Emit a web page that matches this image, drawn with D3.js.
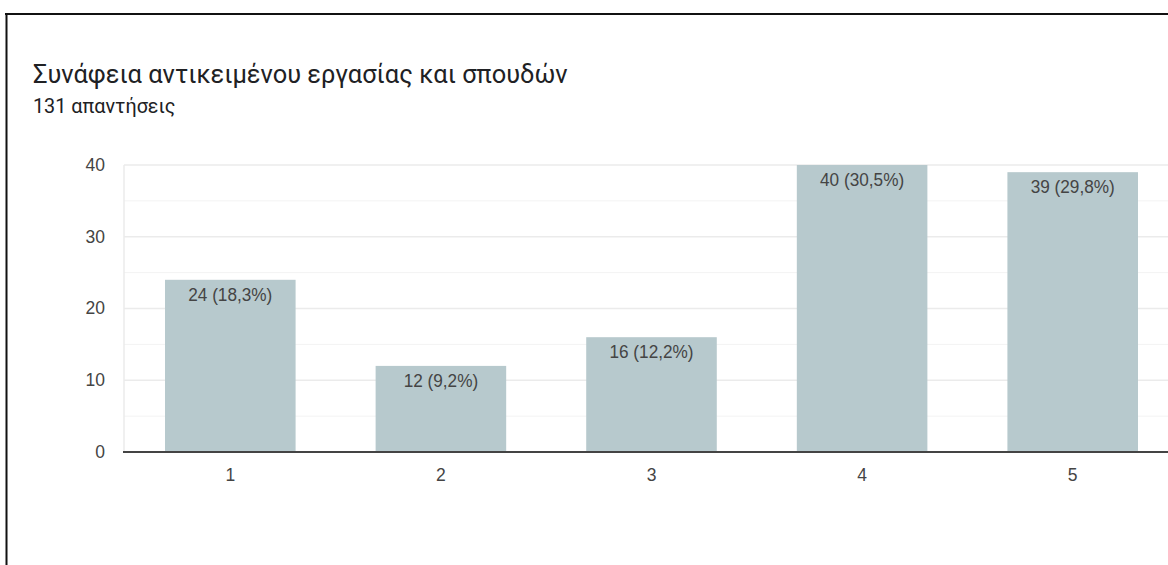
<!DOCTYPE html>
<html>
<head>
<meta charset="utf-8">
<script src="https://cdn.jsdelivr.net/npm/d3@7"></script>
<style>
  html, body { margin: 0; padding: 0; background: #fff; }
  svg { display: block; }
</style>
</head>
<body>
<svg id="chart" width="1168" height="565"></svg>
<script>
// Survey responses: relevance between job subject and studies (1–5 scale)
const categories = ["1", "2", "3", "4", "5"];
const counts = [24, 12, 16, 40, 39];
const percentLabels = ["18,3%", "9,2%", "12,2%", "30,5%", "29,8%"];
const yTicks = [0, 10, 20, 30, 40];
const yMinorTicks = [5, 15, 25, 35];
const titleText = "Συνάφεια αντικειμένου εργασίας και σπουδών";
const subtitleText = "131 απαντήσεις";

const svg = d3.select("#chart");
const W = 1168, H = 565;
const labelFont = "Arial, 'Liberation Sans', sans-serif";

// Card frame (top and left edges visible)
svg.append("rect").attr("width", W).attr("height", H).attr("fill", "#fff");
svg.append("line").attr("x1", 5).attr("x2", W).attr("y1", 14).attr("y2", 14)
  .attr("stroke", "#111").attr("stroke-width", 2);
svg.append("line").attr("x1", 6.5).attr("x2", 6.5).attr("y1", 13).attr("y2", H)
  .attr("stroke", "#111").attr("stroke-width", 2);

svg.append("text").attr("x", 33).attr("y", 83)
  .attr("font-family", "Roboto, 'Noto Sans', sans-serif")
  .attr("font-size", 25.4).attr("fill", "#202124").text(titleText);
svg.append("text").attr("x", 33).attr("y", 113)
  .attr("font-family", "Roboto, 'Noto Sans', sans-serif")
  .attr("font-size", 19.8).attr("fill", "#202124").text(subtitleText);

const plotLeft = 124, plotTop = 165, plotBottom = 452;
const bandStart = 125, bandEnd = 1178;

const x = d3.scaleBand().domain(categories).range([bandStart, bandEnd])
  .paddingInner(0.38).paddingOuter(0.19);
const y = d3.scaleLinear().domain([0, 40]).range([plotBottom, plotTop]);

const g = svg.append("g");

// Gridlines
g.selectAll(".minor").data(yMinorTicks).join("line")
  .attr("x1", plotLeft).attr("x2", W)
  .attr("y1", d => y(d)).attr("y2", d => y(d))
  .attr("stroke", "#f3f3f3").attr("stroke-width", 1);
g.selectAll(".major").data(yTicks.filter(d => d > 0)).join("line")
  .attr("x1", plotLeft).attr("x2", W)
  .attr("y1", d => y(d)).attr("y2", d => y(d))
  .attr("stroke", "#ebebeb").attr("stroke-width", 1.5);
g.append("line").attr("x1", plotLeft).attr("x2", plotLeft)
  .attr("y1", y(40)).attr("y2", plotBottom)
  .attr("stroke", "#ebebeb").attr("stroke-width", 1.5);

// Bars
const data = categories.map((c, i) => ({ c, v: counts[i], p: percentLabels[i] }));
g.selectAll(".bar").data(data).join("rect")
  .attr("x", d => x(d.c)).attr("width", x.bandwidth())
  .attr("y", d => y(d.v)).attr("height", d => y(0) - y(d.v))
  .attr("fill", "#b7c9cd");

// Value labels inside bar tops
g.selectAll(".val").data(data).join("text")
  .attr("text-anchor", "middle")
  .attr("transform", d => `translate(${x(d.c) + x.bandwidth() / 2},${y(d.v) + 21}) scale(1,1.12)`)
  .attr("font-family", labelFont)
  .attr("font-size", 17.2).attr("fill", "#444")
  .text(d => `${d.v} (${d.p})`);

// Baseline
g.append("line").attr("x1", plotLeft - 1).attr("x2", W)
  .attr("y1", plotBottom).attr("y2", plotBottom)
  .attr("stroke", "#444").attr("stroke-width", 2);

// Y axis labels
const yAxis = d3.axisLeft(y).tickValues(yTicks).tickSize(0).tickPadding(0);
const ya = svg.append("g").attr("transform", `translate(${plotLeft - 19},0)`).call(yAxis);
ya.select(".domain").remove();
ya.selectAll("text").attr("font-family", labelFont)
  .attr("font-size", 17.5).attr("fill", "#444").attr("dy", "0.3em");

// X axis labels
const xAxis = d3.axisBottom(x).tickSize(0).tickPadding(0);
const xa = svg.append("g").attr("transform", `translate(0,${plotBottom + 17})`).call(xAxis);
xa.select(".domain").remove();
xa.selectAll("text").attr("font-family", labelFont)
  .attr("font-size", 17.5).attr("fill", "#444").attr("dy", "0.71em");
</script>
</body>
</html>
